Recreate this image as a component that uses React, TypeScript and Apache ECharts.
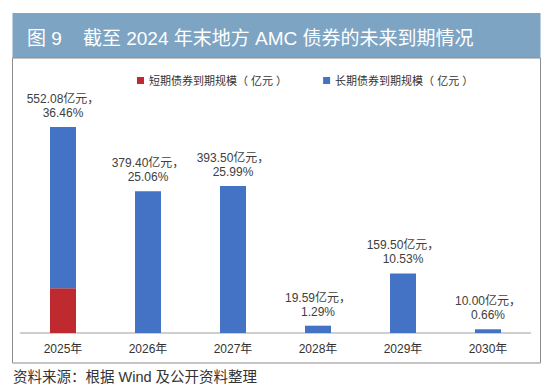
import React, { useEffect, useRef } from "react";
import * as echarts from "echarts";

const categories = ["2025年", "2026年", "2027年", "2028年", "2029年", "2030年"];
const shortTerm = [120, 0, 0, 0, 0, 0];
const longTerm = [432.08, 379.4, 393.5, 19.59, 159.5, 10.0];
const totals = [552.08, 379.4, 393.5, 19.59, 159.5, 10.0];
const shares = ["36.46", "25.06", "25.99", "1.29", "10.53", "0.66"];
const titleText = "图 9    截至 2024 年末地方 AMC 债券的未来到期情况";
const sourceText = "资料来源：根据 Wind 及公开资料整理";
const seriesNames = ["短期债券到期规模（ 亿元 ）", "长期债券到期规模（ 亿元 ）"];

const FONT = "'Liberation Sans', 'Noto Sans CJK SC', sans-serif";

export default function App() {
  const ref = useRef<HTMLDivElement>(null);
  useEffect(() => {
    document.body.style.margin = "0";
    const chart = echarts.init(ref.current!, null, { renderer: "svg" });
    chart.setOption({
      animation: false,
      backgroundColor: "#ffffff",
      textStyle: { fontFamily: FONT },
      graphic: [
        {
          type: "rect",
          shape: { x: 12.5, y: 13, width: 528, height: 45 },
          style: { fill: "#7ea4c4" },
          z: 0,
        },
        {
          type: "text",
          x: 27,
          y: 38,
          style: {
            text: titleText,
            fill: "#ffffff",
            font: `19px ${FONT}`,
            verticalAlign: "middle",
          },
          z: 1,
        },
        {
          type: "rect",
          shape: { x: 12.5, y: 58, width: 528, height: 305 },
          style: { fill: "none", stroke: "#8c8c8c", lineWidth: 1 },
          z: 0,
        },
        {
          type: "text",
          x: 13,
          y: 377,
          style: {
            text: sourceText,
            fill: "#333333",
            font: `14.5px ${FONT}`,
            verticalAlign: "middle",
          },
        },
      ],
      legend: {
        top: 70,
        left: 132,
        itemWidth: 7,
        itemHeight: 7,
        itemGap: 36,
        icon: "rect",
        textStyle: { fontSize: 11, color: "#333333", fontFamily: FONT },
        data: seriesNames,
      },
      grid: { left: 20.5, right: 19.5, top: 109, bottom: 56 },
      xAxis: {
        type: "category",
        data: categories,
        axisLine: { lineStyle: { color: "#bfbfbf", width: 1.5 } },
        axisTick: { show: false },
        axisLabel: { fontSize: 12, color: "#333333", margin: 10, fontFamily: FONT },
      },
      yAxis: {
        type: "value",
        min: 0,
        max: 600,
        show: false,
        splitLine: { show: false },
      },
      series: [
        {
          name: seriesNames[0],
          type: "bar",
          stack: "total",
          data: shortTerm,
          barWidth: 26,
          itemStyle: { color: "#be2a2e" },
        },
        {
          name: seriesNames[1],
          type: "bar",
          stack: "total",
          data: longTerm,
          barWidth: 26,
          itemStyle: { color: "#4472c4" },
          label: {
            show: true,
            position: "top",
            distance: 7,
            fontSize: 12,
            lineHeight: 14,
            color: "#404040",
            fontFamily: FONT,
            formatter: (p: any) =>
              `${totals[p.dataIndex].toFixed(2)}亿元，\n${shares[p.dataIndex]}%`,
          },
        },
      ],
    });
    return () => chart.dispose();
  }, []);
  return <div ref={ref} style={{ width: 550, height: 389 }} />;
}
